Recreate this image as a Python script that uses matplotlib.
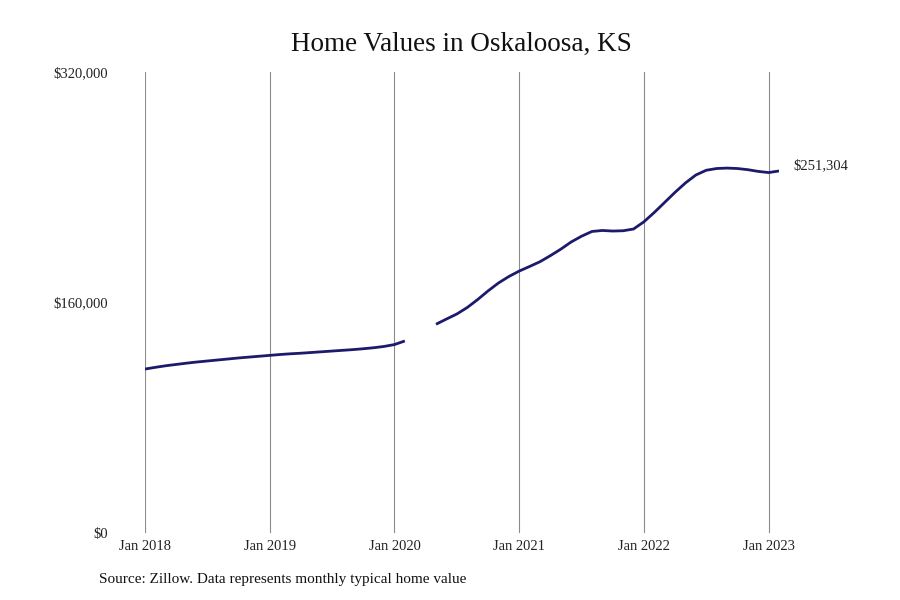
import numpy as np
import matplotlib
matplotlib.use("Agg")
import matplotlib.pyplot as plt

# monthly typical home value, Jan 2018 .. Feb 2023 (Mar/Apr 2020 missing)
values_2018 = [113800, 115000, 116100, 117000, 117900, 118700,
               119400, 120100, 120800, 121500, 122100, 122700]
values_2019 = [123300, 123900, 124400, 124800, 125300, 125800,
               126300, 126800, 127300, 127900, 128600, 129500]
values_2020 = [130800, 133300, np.nan, np.nan, 144900, 148500,
               152000, 156500, 162000, 168000, 173500, 178000]
values_2021 = [181800, 185000, 188300, 192500, 197000, 202000,
               206000, 209300, 210000, 209600, 209800, 211000]
values_2022 = [216000, 222500, 229500, 236500, 243000, 248500,
               251800, 253000, 253300, 253000, 252200, 251000]
values_2023 = [250200, 251304]

tick_labels = ["Jan 2018", "Jan 2019", "Jan 2020", "Jan 2021", "Jan 2022", "Jan 2023"]
y_ticks = [0, 160000, 320000]

values = np.array(values_2018 + values_2019 + values_2020 +
                  values_2021 + values_2022 + values_2023, dtype=float)
months = np.arange(len(values))

plt.rcParams['font.family'] = ['Liberation Serif', 'DejaVu Serif']

fig = plt.figure(figsize=(9, 6), dpi=100)
ax = fig.add_axes([145/900, 1-533/600, (779-145)/900, (533-72)/600])

ax.plot(months, values, color='#1c1a6b', lw=2.0, solid_capstyle='butt')
ax.set_xlim(0, months[-1])
ax.set_ylim(0, 320000)

ax.set_xticks(np.arange(0, 61, 12))
ax.set_xticklabels(tick_labels)
ax.set_yticks(y_ticks)
ax.set_yticklabels([f"${v:,.0f}" for v in y_ticks])
ax.tick_params(axis='both', length=0, labelsize=10.5, colors='#222222')
ax.tick_params(axis='y', pad=27)
ax.tick_params(axis='x', pad=5)
ax.grid(axis='x', color='#8c8c8c', lw=0.8)
ax.grid(axis='y', visible=False)
for s in ax.spines.values():
    s.set_visible(False)

ax.annotate(f"${values[-1]:,.0f}", xy=(months[-1], values[-1]),
            xytext=(10, 4), textcoords='offset points',
            ha='left', va='center', fontsize=10.5, color='#222222')

fig.text(461/900, 1-44/600, "Home Values in Oskaloosa, KS",
         ha='center', va='center', fontsize=19.5, color='#111111')
fig.text(99/900, 1-580/600, "Source: Zillow. Data represents monthly typical home value",
         ha='left', va='center', fontsize=11, color='#111111')

fig.savefig("out.png", dpi=100, facecolor='white')
